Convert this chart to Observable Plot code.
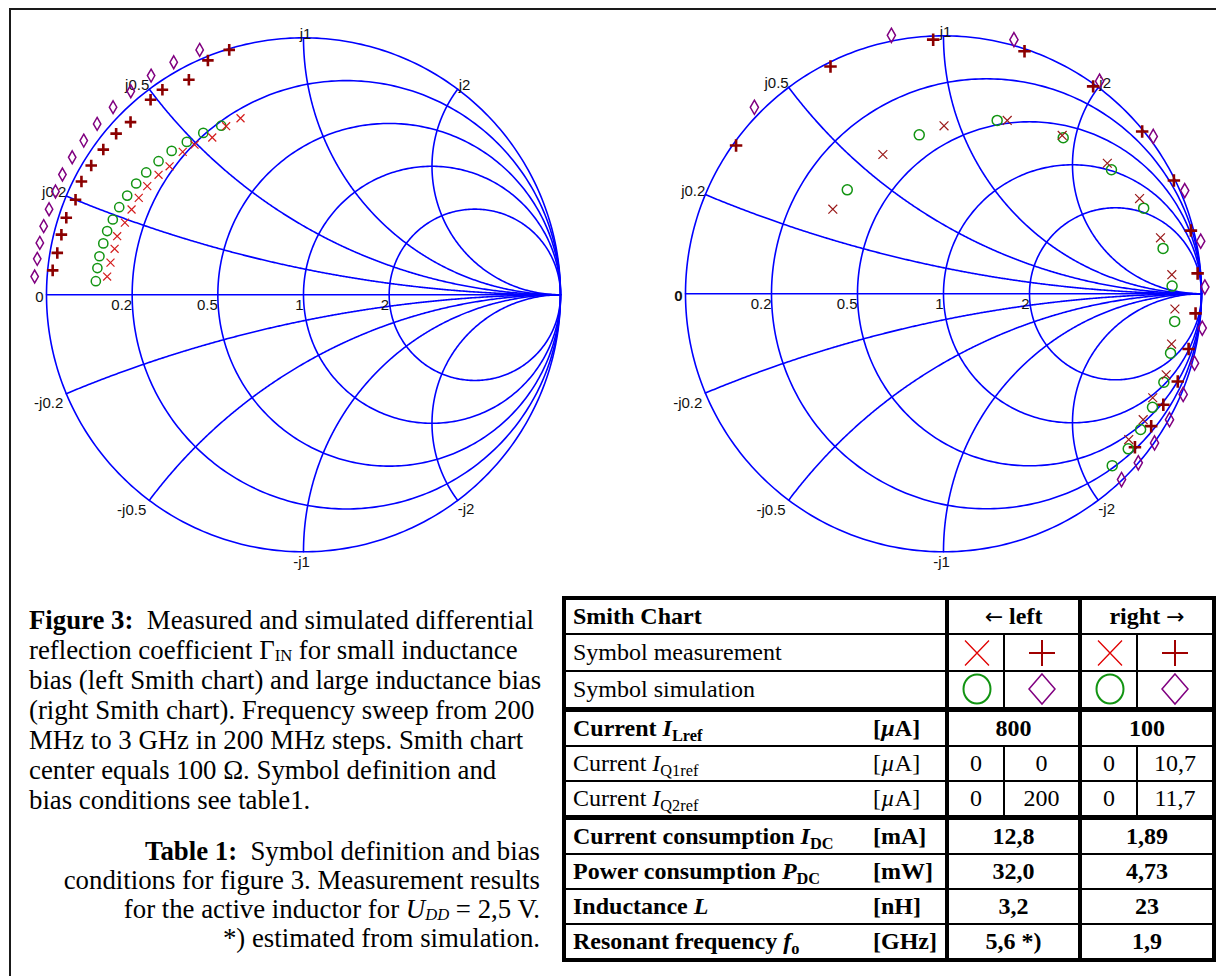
<!DOCTYPE html>
<html><head><meta charset="utf-8">
<script src="https://cdn.jsdelivr.net/npm/d3@7"></script>
<script src="https://cdn.jsdelivr.net/npm/@observablehq/plot@0.6"></script>
<style>
html,body{margin:0;padding:0;background:#fff;}
#page{position:relative;width:1216px;height:976px;overflow:hidden;background:#fff;}
#frame{position:absolute;left:9px;top:8px;width:1230px;height:1000px;border-top:2px solid #1a1a1a;border-left:2px solid #1a1a1a;}
.chart{position:absolute;left:0;top:0;}
.chart svg{overflow:visible;background:transparent;}
.cap{position:absolute;font-family:"Liberation Serif","Times New Roman",serif;font-size:26.8px;white-space:nowrap;color:#000;}
.cap sub{font-size:0.62em;vertical-align:-0.15em;line-height:0;}
#cap1{left:29px;top:605px;line-height:30px;}
#cap2{right:676px;top:837px;line-height:29px;text-align:right;}
#tbl{position:absolute;left:562px;top:596px;}
table{border-collapse:collapse;font-family:"Liberation Serif","Times New Roman",serif;font-size:24px;table-layout:fixed;width:654px;border:4px solid #000;}
td{border:2px solid #000;padding:0;vertical-align:middle;text-align:center;white-space:nowrap;overflow:visible;}
td.lab{text-align:left;padding-left:7px;border-right:none;}
td.unit{text-align:left;padding-left:0px;border-left:none;}
td.vsep{border-right:4px solid #000;}
tr.hsep td{border-bottom:5px solid #000;}
td sub{font-size:0.68em;vertical-align:-0.28em;line-height:0;}
td svg{display:block;margin:0 auto;}
.arrow{font-family:"DejaVu Sans",sans-serif;font-size:22px;font-weight:normal;}
</style>
</head><body>
<div id="page">
  <div id="frame"></div>
  <div id="leftChart" class="chart"></div>
  <div id="rightChart" class="chart"></div>
  <div id="cap1" class="cap"><b>Figure 3:</b>&nbsp; Measured and simulated differential<br>reflection coefficient Γ<sub>IN</sub> for small inductance<br>bias (left Smith chart) and large inductance bias<br>(right Smith chart). Frequency sweep from 200<br>MHz to 3 GHz in 200 MHz steps. Smith chart<br>center equals 100 Ω. Symbol definition and<br>bias conditions see table1.</div>
  <div id="cap2" class="cap"><b>Table 1:</b>&nbsp; Symbol definition and bias<br>conditions for figure 3. Measurement results<br>for the active inductor for <i>U<sub>DD</sub></i> = 2,5 V.<br>*) estimated from simulation.</div>
  <div id="tbl"></div>
</div>
<script>
// ---------- Smith chart grid ticks ----------
const resistanceTicks = [0, 0.2, 0.5, 1, 2];
const reactanceTicks = [0.2, 0.5, 1, 2];
const resistanceLabels = ["0", "0.2", "0.5", "1", "2"];
const reactanceLabelsPos = ["j0.2", "j0.5", "j1", "j2"];
const reactanceLabelsNeg = ["-j0.2", "-j0.5", "-j1", "-j2"];

// ---------- Data: reflection coefficient Γ (re, im), 200 MHz .. 3 GHz in 200 MHz steps ----------
const freqsMHz = [200, 400, 600, 800, 1000, 1200, 1400, 1600, 1800, 2000, 2200, 2400, 2600, 2800, 3000];

// left chart (small inductance bias)
const leftMeasX = [[-0.764,0.071],[-0.751,0.125],[-0.735,0.179],[-0.725,0.228],[-0.695,0.281],[-0.669,0.332],[-0.641,0.377],[-0.608,0.423],[-0.564,0.467],[-0.521,0.500],[-0.470,0.556],[-0.424,0.584],[-0.355,0.612],[-0.301,0.656],[-0.245,0.687]];
const leftMeasPlus = [[-0.976,0.095],[-0.958,0.163],[-0.942,0.234],[-0.923,0.300],[-0.887,0.370],[-0.864,0.441],[-0.826,0.503],[-0.779,0.565],[-0.729,0.627],[-0.673,0.672],[-0.595,0.759],[-0.549,0.798],[-0.446,0.837],[-0.372,0.912],[-0.289,0.953]];
const leftSimCircle = [[-0.808,0.053],[-0.802,0.104],[-0.794,0.150],[-0.779,0.200],[-0.764,0.248],[-0.742,0.293],[-0.717,0.341],[-0.686,0.386],[-0.651,0.433],[-0.612,0.476],[-0.564,0.520],[-0.513,0.560],[-0.454,0.595],[-0.390,0.630],[-0.320,0.658]];
const leftSimDiamond = [[-1.046,0.071],[-1.036,0.140],[-1.026,0.202],[-1.011,0.267],[-0.990,0.333],[-0.965,0.402],[-0.938,0.468],[-0.900,0.535],[-0.855,0.600],[-0.803,0.665],[-0.741,0.730],[-0.672,0.792],[-0.593,0.853],[-0.505,0.905],[-0.404,0.953]];

// right chart (large inductance bias)
const rightMeasX = [[-0.429,0.328],[-0.235,0.540],[0.002,0.651],[0.247,0.672],[0.460,0.614],[0.635,0.506],[0.760,0.369],[0.841,0.217],[0.885,0.074],[0.897,-0.059],[0.884,-0.195],[0.863,-0.314],[0.811,-0.403],[0.774,-0.488],[0.718,-0.565]];
const rightMeasPlus = [[-0.804,0.575],[-0.438,0.881],[-0.040,0.985],[0.314,0.940],[0.580,0.804],[0.770,0.629],[0.893,0.439],[0.959,0.245],[0.985,0.079],[0.977,-0.076],[0.950,-0.214],[0.908,-0.340],[0.852,-0.430],[0.805,-0.513],[0.742,-0.595]];
const rightSimCircle = [[-0.373,0.403],[-0.094,0.616],[0.208,0.672],[0.464,0.605],[0.651,0.481],[0.776,0.332],[0.851,0.176],[0.886,0.030],[0.896,-0.107],[0.880,-0.230],[0.854,-0.343],[0.810,-0.440],[0.764,-0.526],[0.716,-0.601],[0.654,-0.666]];
const rightSimDiamond = [[-0.733,0.723],[-0.202,1.002],[0.273,0.985],[0.605,0.824],[0.813,0.610],[0.935,0.400],[0.997,0.204],[1.013,0.026],[1.003,-0.133],[0.973,-0.269],[0.929,-0.390],[0.876,-0.488],[0.818,-0.578],[0.755,-0.655],[0.690,-0.720]];

// ---------- Table data ----------
const headerCells = ["Smith Chart", "left", "right"];
const symbolRowLabels = ["Symbol measurement", "Symbol simulation"];
const symbolRows = [["times", "plus", "times", "plus"], ["circle", "diamond", "circle", "diamond"]];
const rowNames = ["Current ", "Current ", "Current ", "Current consumption ", "Power consumption ", "Inductance ", "Resonant frequency "];
const rowVars = ["I", "I", "I", "I", "P", "L", "f"];
const rowSubs = ["Lref", "Q1ref", "Q2ref", "DC", "DC", "", "o"];
const rowUnits = ["[<i>µ</i>A]", "[<i>µ</i>A]", "[<i>µ</i>A]", "[mA]", "[mW]", "[nH]", "[GHz]"];
const rowBold = [true, false, false, true, true, true, true];
const leftValues = [["800"], ["0", "0"], ["0", "200"], ["12,8"], ["32,0"], ["3,2"], ["5,6 *)"]];
const rightValues = [["100"], ["0", "10,7"], ["0", "11,7"], ["1,89"], ["4,73"], ["23"], ["1,9"]];

// ---------- helpers ----------
const gamma = (r, X) => { const den = (r + 1) ** 2 + X * X; return [(r * r + X * X - 1) / den, 2 * X / den]; };

function gridLines() {
  const g = [];
  resistanceTicks.forEach(r => {
    const c = r / (r + 1), rad = 1 / (r + 1);
    for (let i = 0; i <= 360; i++) { const a = i / 360 * 2 * Math.PI; g.push({id: "r" + r, u: c + rad * Math.cos(a), v: rad * Math.sin(a)}); }
  });
  reactanceTicks.forEach(x => [1, -1].forEach(s => {
    for (let i = 0; i <= 400; i++) {
      const t = i / 400 * Math.PI / 2;
      const p = i === 400 ? [1, 0] : gamma(Math.tan(t), s * x);
      g.push({id: "x" + s * x, u: p[0], v: p[1]});
    }
  }));
  g.push({id: "axis", u: -1, v: 0}, {id: "axis", u: 1, v: 0});
  return g;
}

const toPts = arr => arr.map((d, i) => ({u: d[0], v: d[1], f: freqsMHz[i]}));

function smith(el, cfg) {
  const {cx, cy, R, mx, mp, sc, sd, xColor, sizes, zeroWeight} = cfg;
  const rLab = resistanceTicks.map((r, i) => ({u: (r - 1) / (r + 1), v: 0, t: resistanceLabels[i], k: i}));
  const posLab = reactanceTicks.map((x, i) => { const p = gamma(0, x); return {u: p[0], v: p[1], t: reactanceLabelsPos[i], x}; });
  const negLab = reactanceTicks.map((x, i) => { const p = gamma(0, -x); return {u: p[0], v: p[1], t: reactanceLabelsNeg[i], x}; });
  const font = {fontSize: 15, fill: "#111"};
  const svg = Plot.plot({
    width: 1216, height: 590, margin: 0,
    style: {fontFamily: "'Liberation Sans', Arial, sans-serif", background: "transparent", overflow: "visible"},
    x: {domain: [-1, 1], range: [cx - R, cx + R], axis: null},
    y: {domain: [-1, 1], range: [cy + R, cy - R], axis: null},
    marks: [
      Plot.line(gridLines(), {x: "u", y: "v", z: "id", stroke: "#0000ff", strokeWidth: 1.6, curve: "linear"}),
      Plot.text(rLab.filter(d => d.k === 0), {x: "u", y: "v", text: "t", textAnchor: "end", lineAnchor: "middle", dx: -3, dy: 2, fontWeight: zeroWeight, ...font}),
      Plot.text(rLab.filter(d => d.k > 0), {x: "u", y: "v", text: "t", textAnchor: "end", lineAnchor: "top", dx: 0, dy: 5, ...font}),
      Plot.text(posLab.filter(d => d.x < 1), {x: "u", y: "v", text: "t", textAnchor: "end", lineAnchor: "bottom", dx: 0, dy: 1, ...font}),
      Plot.text(posLab.filter(d => d.x === 1), {x: "u", y: "v", text: "t", textAnchor: "middle", lineAnchor: "bottom", dx: 2, dy: 1, ...font}),
      Plot.text(posLab.filter(d => d.x > 1), {x: "u", y: "v", text: "t", textAnchor: "start", lineAnchor: "bottom", dx: 1, dy: 1, ...font}),
      Plot.text(negLab.filter(d => d.x < 1), {x: "u", y: "v", text: "t", textAnchor: "end", lineAnchor: "top", dx: -3, dy: 4, ...font}),
      Plot.text(negLab.filter(d => d.x === 1), {x: "u", y: "v", text: "t", textAnchor: "middle", lineAnchor: "top", dx: -2, dy: 5, ...font}),
      Plot.text(negLab.filter(d => d.x > 1), {x: "u", y: "v", text: "t", textAnchor: "start", lineAnchor: "top", dx: 0, dy: 3, ...font}),
      Plot.dot(toPts(sd), {x: "u", y: "v", symbol: "diamond", r: sizes.d, stroke: "#800080", strokeWidth: 1.5, fill: "none"}),
      Plot.dot(toPts(mp), {x: "u", y: "v", symbol: "plus", r: sizes.p, stroke: "#8b0000", strokeWidth: 2.6}),
      Plot.dot(toPts(sc), {x: "u", y: "v", symbol: "circle", r: sizes.c, stroke: "#129412", strokeWidth: 1.5, fill: "none"}),
      Plot.dot(toPts(mx), {x: "u", y: "v", symbol: "times", r: sizes.x, stroke: xColor, strokeWidth: 1.2})
    ]
  });
  el.appendChild(svg);
}

smith(document.getElementById("leftChart"), {cx: 303, cy: 294.3, R: 257, mx: leftMeasX, mp: leftMeasPlus, sc: leftSimCircle, sd: leftSimDiamond, xColor: "#d41c1c", sizes: {d: 3.9, p: 3.8, c: 4.6, x: 3.7}, zeroWeight: "normal"});
smith(document.getElementById("rightChart"), {cx: 943, cy: 293.3, R: 258, mx: rightMeasX, mp: rightMeasPlus, sc: rightSimCircle, sd: rightSimDiamond, xColor: "#9a1a1a", sizes: {d: 4.3, p: 4.1, c: 5, x: 4.1}, zeroWeight: "bold"});

// ---------- Table ----------
function symbolSvg(kind) {
  const w = 56, h = 34;
  const s = d3.create("svg").attr("width", w).attr("height", h);
  const g = s.append("g").attr("transform", `translate(${w / 2},${h / 2})`).attr("fill", "none");
  if (kind === "times") g.append("path").attr("d", "M-12,-12.5L12,12.5M-12,12.5L12,-12.5").attr("stroke", "#e00000").attr("stroke-width", 1.3);
  if (kind === "plus") g.append("path").attr("d", "M-13,0L13,0M0,-13L0,13").attr("stroke", "#a00000").attr("stroke-width", 2);
  if (kind === "circle") g.append("ellipse").attr("rx", 13.5).attr("ry", 14.5).attr("stroke", "#129412").attr("stroke-width", 2);
  if (kind === "diamond") g.append("path").attr("d", "M0,-15L13,0L0,15L-13,0Z").attr("stroke", "#800080").attr("stroke-width", 1.5);
  return s.node();
}

const table = d3.select("#tbl").append("table");
const colgroup = table.append("colgroup");
[309, 74, 57, 76, 57, 77].forEach(w => colgroup.append("col").attr("style", `width:${w}px`));
const tb = table.append("tbody");
const rowHeights = [36, 37, 38, 37, 35, 36, 37, 35, 35, 36];

// header
{
  const tr = tb.append("tr").style("height", rowHeights[0] + "px").style("font-weight", "bold");
  tr.append("td").attr("colspan", 2).attr("class", "lab vsep").text(headerCells[0]);
  tr.append("td").attr("colspan", 2).attr("class", "vsep").html(`<span class="arrow">←</span> ${headerCells[1]}`);
  tr.append("td").attr("colspan", 2).html(`${headerCells[2]} <span class="arrow">→</span>`);
}
// symbol rows
symbolRows.forEach((syms, ri) => {
  const tr = tb.append("tr").style("height", rowHeights[1 + ri] + "px");
  if (ri === 1) tr.attr("class", "hsep");
  tr.append("td").attr("colspan", 2).attr("class", "lab vsep").text(symbolRowLabels[ri]);
  syms.forEach((k, j) => { const td = tr.append("td"); if (j === 1) td.attr("class", "vsep"); td.node().appendChild(symbolSvg(k)); });
});
// value rows
rowNames.forEach((name, i) => {
  const tr = tb.append("tr").style("height", rowHeights[3 + i] + "px").style("font-weight", rowBold[i] ? "bold" : "normal");
  if (i === 2) tr.attr("class", "hsep");
  tr.append("td").attr("class", "lab").html(`${name}<i>${rowVars[i]}</i>${rowSubs[i] ? `<sub>${rowSubs[i]}</sub>` : ""}`);
  tr.append("td").attr("class", "unit vsep").html(rowUnits[i]);
  const L = leftValues[i], Rv = rightValues[i];
  if (L.length === 1) tr.append("td").attr("colspan", 2).attr("class", "vsep").text(L[0]);
  else { tr.append("td").text(L[0]); tr.append("td").attr("class", "vsep").text(L[1]); }
  if (Rv.length === 1) tr.append("td").attr("colspan", 2).text(Rv[0]);
  else { tr.append("td").text(Rv[0]); tr.append("td").text(Rv[1]); }
});
</script>
</body></html>
